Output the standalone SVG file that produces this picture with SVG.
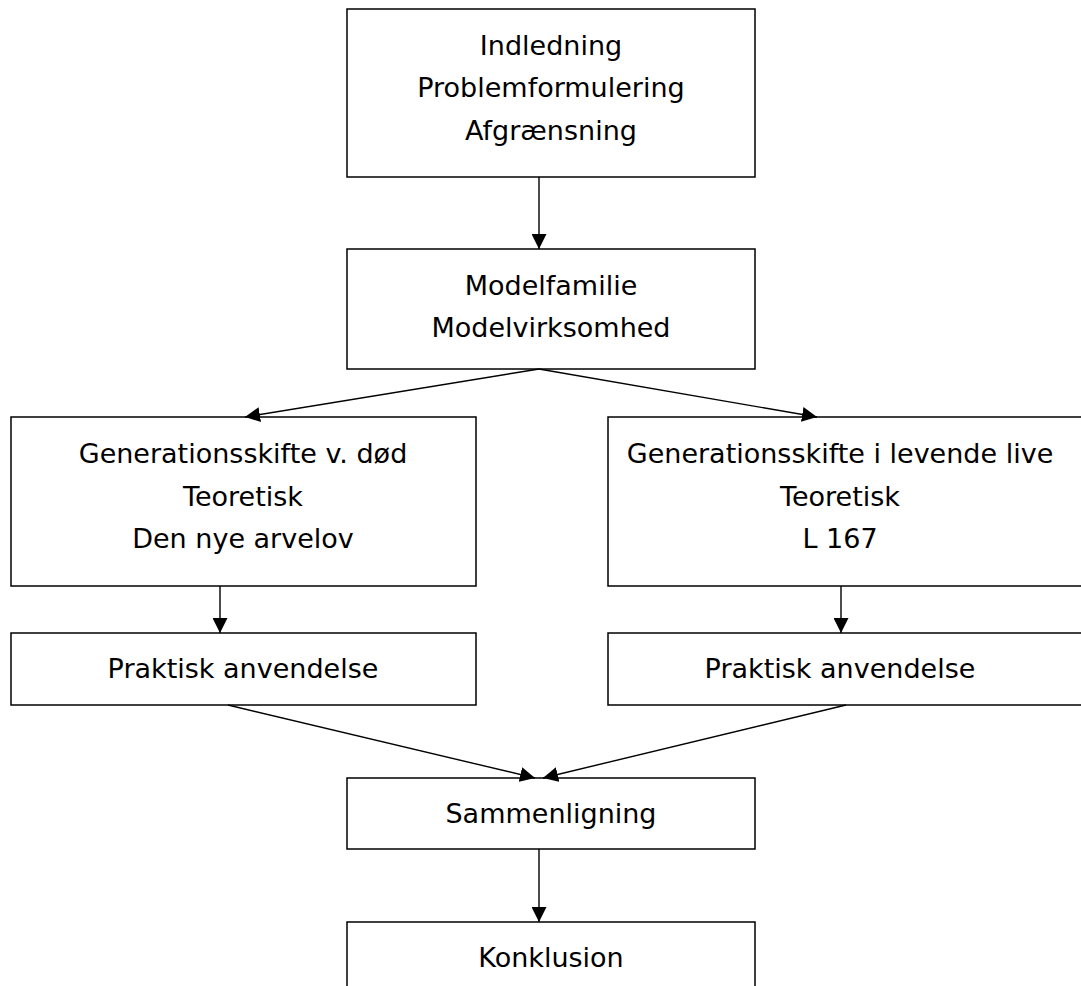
<svg xmlns="http://www.w3.org/2000/svg" width="1081" height="986" viewBox="0 0 1081 986">
<style>
.box{fill:#fff;stroke:#000;stroke-width:1.5}
.t{font-family:"DejaVu Sans",sans-serif;font-size:27px;fill:#000;text-anchor:middle}
.c{stroke:#000;stroke-width:1.4;fill:none;marker-end:url(#ah)}
</style>
<defs>
<marker id="ah" markerUnits="userSpaceOnUse" markerWidth="15" markerHeight="15" refX="15" refY="7.5" orient="auto">
<path d="M0,0 L15,7.5 L0,15 z" fill="#000"/>
</marker>
</defs>
<rect width="1081" height="986" fill="#fff"/>
<g id="n1"><rect class="box" x="347" y="9" width="408" height="168"/>
<text class="t" x="551" y="55">Indledning</text>
<text class="t" x="551" y="97">Problemformulering</text>
<text class="t" x="551" y="140">Afgrænsning</text></g>
<g id="n2"><rect class="box" x="347" y="249" width="408" height="120"/>
<text class="t" x="551" y="295">Modelfamilie</text>
<text class="t" x="551" y="337">Modelvirksomhed</text></g>
<g id="n3"><rect class="box" x="11" y="417" width="465" height="169"/>
<text class="t" x="243" y="463">Generationsskifte v. død</text>
<text class="t" x="243" y="506">Teoretisk</text>
<text class="t" x="243" y="548">Den nye arvelov</text></g>
<g id="n4"><rect class="box" x="608" y="417" width="480" height="169"/>
<text class="t" x="840" y="463">Generationsskifte i levende live</text>
<text class="t" x="840" y="506">Teoretisk</text>
<text class="t" x="840" y="548">L 167</text></g>
<g id="n5"><rect class="box" x="11" y="633" width="465" height="72"/>
<text class="t" x="243" y="678">Praktisk anvendelse</text></g>
<g id="n6"><rect class="box" x="608" y="633" width="480" height="72"/>
<text class="t" x="840" y="678">Praktisk anvendelse</text></g>
<g id="n7"><rect class="box" x="347" y="778" width="408" height="71"/>
<text class="t" x="551" y="823">Sammenligning</text></g>
<g id="n8"><rect class="box" x="347" y="922" width="408" height="80"/>
<text class="t" x="551" y="967">Konklusion</text></g>
<g id="connectors">
<line class="c" x1="539" y1="177" x2="539" y2="249"/>
<line class="c" x1="539" y1="369" x2="245" y2="417"/>
<line class="c" x1="539" y1="369" x2="817" y2="417"/>
<line class="c" x1="220" y1="586" x2="220" y2="633"/>
<line class="c" x1="841" y1="586" x2="841" y2="633"/>
<line class="c" x1="228" y1="705" x2="535" y2="778"/>
<line class="c" x1="846" y1="705" x2="543" y2="778"/>
<line class="c" x1="539" y1="849" x2="539" y2="922"/>
</g>
</svg>
